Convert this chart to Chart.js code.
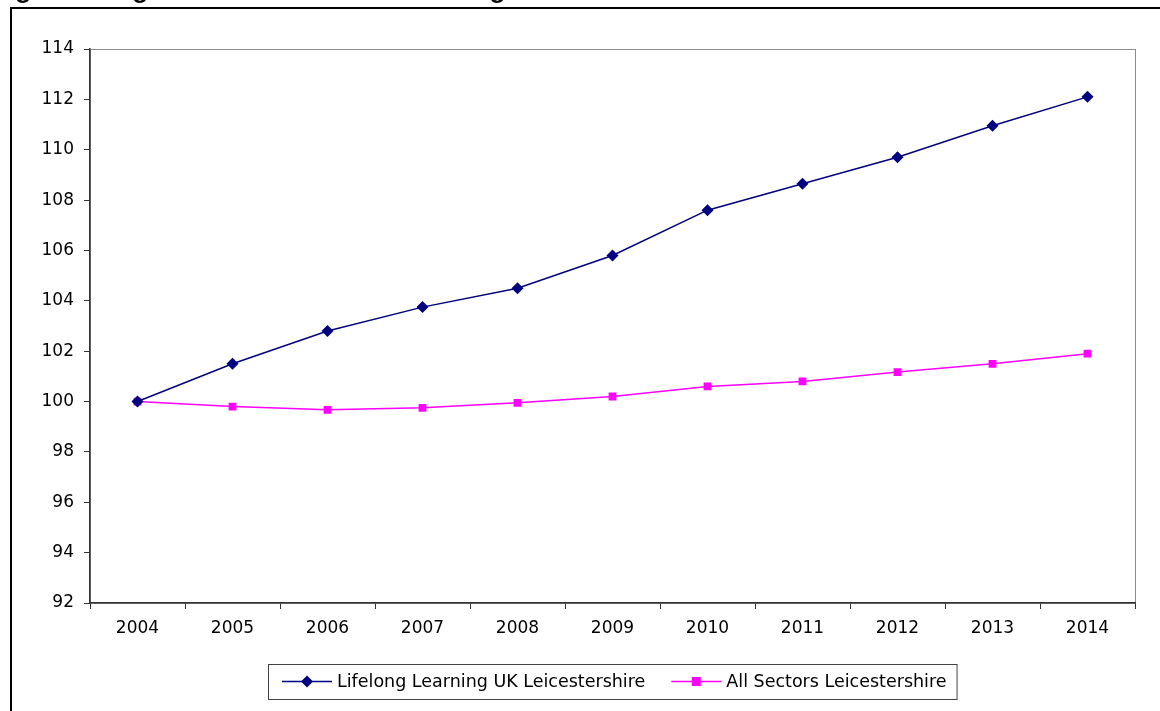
<!DOCTYPE html>
<html>
<head>
<meta charset="utf-8">
<script src="https://cdn.jsdelivr.net/npm/chart.js@4/dist/chart.umd.min.js"></script>
<style>
  html, body { margin: 0; padding: 0; background: #fff; }
  #wrap { position: relative; width: 1160px; height: 711px; overflow: hidden; }
</style>
</head>
<body>
<div id="wrap"><canvas id="chart" width="1160" height="711"></canvas></div>
<script>
// data
var years = ['2004', '2005', '2006', '2007', '2008', '2009', '2010', '2011', '2012', '2013', '2014'];
var lifelongLearning = [100, 101.5, 102.8, 103.75, 104.5, 105.8, 107.6, 108.65, 109.7, 110.95, 112.1];
var allSectors = [100, 99.8, 99.67, 99.75, 99.95, 100.2, 100.6, 100.8, 101.17, 101.5, 101.9];
var seriesNames = ['Lifelong Learning UK Leicestershire', 'All Sectors Leicestershire'];
var titleText = 'Lifelong Learning Growth vs All Sector Average';

var FONT = '"DejaVu Sans", Arial, sans-serif';

// outer frame, cut-off title and plot area box
var framePlugin = {
    id: 'frame',
    beforeDraw: function(chart) {
        var ctx = chart.ctx;
        var a = chart.chartArea;
        ctx.save();
        ctx.fillStyle = '#000';
        ctx.font = 'bold 26px "Liberation Sans", Arial, sans-serif';
        ctx.textBaseline = 'alphabetic';
        ctx.fillText(titleText, -70, -2);
        ctx.strokeStyle = '#000';
        ctx.lineWidth = 2;
        ctx.strokeRect(11, 8, 3000, 3000);
        ctx.strokeStyle = '#8c8c8c';
        ctx.lineWidth = 1;
        ctx.strokeRect(a.left + 0.5, a.top + 0.5, a.right - a.left, a.bottom - a.top);
        ctx.restore();
    }
};

function drawMarker(ctx, style, x, y, color) {
    ctx.fillStyle = color;
    ctx.beginPath();
    if (style === 'rectRot') {
        ctx.moveTo(x, y - 6);
        ctx.lineTo(x + 6, y);
        ctx.lineTo(x, y + 6);
        ctx.lineTo(x - 6, y);
        ctx.closePath();
    } else {
        ctx.rect(x - 4.5, y - 4.5, 9, 9);
    }
    ctx.fill();
}

// legend in a box with line + marker samples
var legendPlugin = {
    id: 'boxLegend',
    afterDraw: function(chart) {
        var ctx = chart.ctx;
        var a = chart.chartArea;
        var sets = chart.data.datasets;
        ctx.save();
        ctx.font = '17.5px ' + FONT;
        var sample = 50, gap = 5, itemGap = 26, padL = 14, padR = 10;
        var total = padL + padR;
        sets.forEach(function(ds, i) {
            total += sample + gap + ctx.measureText(ds.label).width;
            if (i < sets.length - 1) total += itemGap;
        });
        var left = Math.round((a.left + a.right) / 2 - total / 2);
        var top = 664, h = 35, cy = top + h / 2;
        ctx.fillStyle = '#fff';
        ctx.fillRect(left, top, total, h);
        ctx.strokeStyle = '#444';
        ctx.lineWidth = 1;
        ctx.strokeRect(left + 0.5, top + 0.5, total, h);
        var x = left + padL;
        sets.forEach(function(ds) {
            ctx.strokeStyle = ds.borderColor;
            ctx.lineWidth = 1.5;
            ctx.beginPath();
            ctx.moveTo(x, cy);
            ctx.lineTo(x + sample, cy);
            ctx.stroke();
            drawMarker(ctx, ds.pointStyle, x + sample / 2, cy, ds.borderColor);
            x += sample + gap;
            ctx.fillStyle = '#000';
            ctx.textBaseline = 'middle';
            ctx.fillText(ds.label, x, cy + 1);
            x += ctx.measureText(ds.label).width + itemGap;
        });
        ctx.restore();
    }
};

new Chart(document.getElementById('chart'), {
    type: 'line',
    data: {
        labels: years,
        datasets: [
            {
                label: seriesNames[0],
                data: lifelongLearning,
                borderColor: '#000080',
                backgroundColor: '#000080',
                borderWidth: 1.5,
                pointStyle: 'rectRot',
                pointRadius: 6,
                pointBorderWidth: 0,
                tension: 0
            },
            {
                label: seriesNames[1],
                data: allSectors,
                borderColor: '#ff00ff',
                backgroundColor: '#ff00ff',
                borderWidth: 1.5,
                pointStyle: 'rect',
                pointRadius: 5.5,
                pointBorderWidth: 0,
                tension: 0
            }
        ]
    },
    plugins: [framePlugin, legendPlugin],
    options: {
        responsive: false,
        animation: false,
        devicePixelRatio: 1,
        layout: { padding: { top: 49, right: 25, left: 0, bottom: 0 } },
        plugins: {
            legend: { display: false },
            tooltip: { enabled: false }
        },
        scales: {
            x: {
                offset: true,
                afterFit: function(scale) { scale.height = 108; },
                grid: {
                    offset: true,
                    drawOnChartArea: false,
                    color: '#333',
                    tickLength: 6
                },
                border: { color: '#333', width: 1.5 },
                ticks: {
                    color: '#000',
                    font: { family: FONT, size: 17 },
                    padding: 9,
                    maxRotation: 0
                }
            },
            y: {
                min: 92,
                max: 114,
                afterFit: function(scale) { scale.width = 90; },
                grid: {
                    drawOnChartArea: false,
                    color: '#333',
                    tickLength: 6
                },
                border: { color: '#333', width: 1.5 },
                ticks: {
                    stepSize: 2,
                    color: '#000',
                    font: { family: FONT, size: 17 },
                    padding: 10
                }
            }
        }
    }
});
</script>
</body>
</html>
